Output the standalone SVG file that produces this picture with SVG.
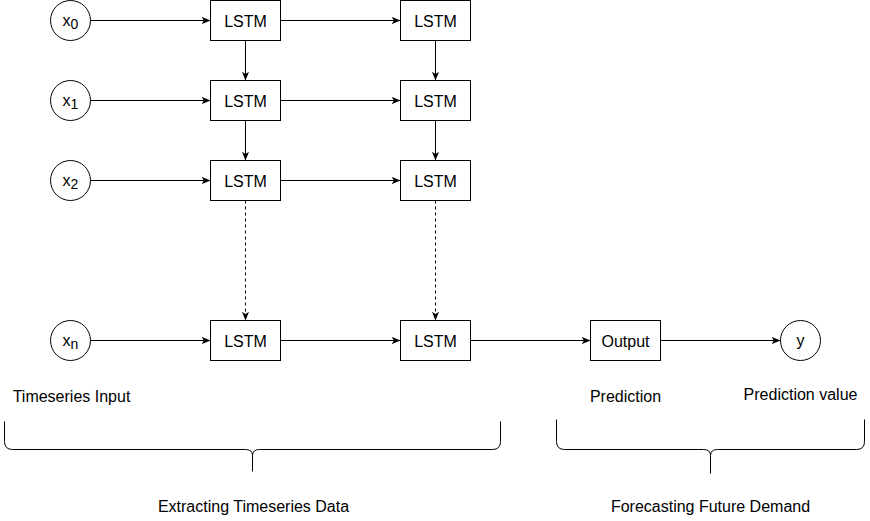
<svg xmlns="http://www.w3.org/2000/svg" width="870" height="521" viewBox="0 0 870 521">
<defs>
<style>
.box{fill:#fff;stroke:#000;stroke-width:1}
.lbl{font-family:"Liberation Sans",Arial,sans-serif;font-size:16px;fill:#000;text-anchor:middle}
.edge{fill:none;stroke:#000;stroke-width:1}
.dash{stroke-dasharray:3 3}
.brace{fill:none;stroke:#000;stroke-width:1}
</style>
<marker id="arr" viewBox="0 0 10 8" refX="10" refY="4" markerWidth="9" markerHeight="7" markerUnits="userSpaceOnUse" orient="auto">
<path d="M0,0 L10,4 L0,8 L2.5,4 z" fill="#000"/>
</marker>
</defs>
<rect width="870" height="521" fill="#fff"/>
<g transform="translate(0.5,0.5)">
<g id="connectors">
<path class="edge" d="M90,20 L210,20" marker-end="url(#arr)"/>
<path class="edge" d="M280,20 L400,20" marker-end="url(#arr)"/>
<path class="edge" d="M90,100 L210,100" marker-end="url(#arr)"/>
<path class="edge" d="M280,100 L400,100" marker-end="url(#arr)"/>
<path class="edge" d="M90,180 L210,180" marker-end="url(#arr)"/>
<path class="edge" d="M280,180 L400,180" marker-end="url(#arr)"/>
<path class="edge" d="M90,340 L210,340" marker-end="url(#arr)"/>
<path class="edge" d="M280,340 L400,340" marker-end="url(#arr)"/>
<path class="edge" d="M470,340 L590,340" marker-end="url(#arr)"/>
<path class="edge" d="M660,340 L780,340" marker-end="url(#arr)"/>
<path class="edge" d="M245,40 L245,80" marker-end="url(#arr)"/>
<path class="edge" d="M245,120 L245,160" marker-end="url(#arr)"/>
<path class="edge" d="M435,40 L435,80" marker-end="url(#arr)"/>
<path class="edge" d="M435,120 L435,160" marker-end="url(#arr)"/>
<path class="edge dash" d="M245,200 L245,320" marker-end="url(#arr)"/>
<path class="edge dash" d="M435,200 L435,320" marker-end="url(#arr)"/>
</g>
<g id="x0"><circle class="box" cx="70" cy="20" r="20"/><text class="lbl" x="70" y="25">x<tspan font-size="14" dy="3">0</tspan></text></g>
<g id="x1"><circle class="box" cx="70" cy="100" r="20"/><text class="lbl" x="70" y="105">x<tspan font-size="14" dy="3">1</tspan></text></g>
<g id="x2"><circle class="box" cx="70" cy="180" r="20"/><text class="lbl" x="70" y="185">x<tspan font-size="14" dy="3">2</tspan></text></g>
<g id="xn"><circle class="box" cx="70" cy="340" r="20"/><text class="lbl" x="70" y="345">x<tspan font-size="14" dy="3">n</tspan></text></g>
<g id="lstm00"><rect class="box" x="210" y="0" width="70" height="40"/><text class="lbl" x="245" y="26">LSTM</text></g>
<g id="lstm01"><rect class="box" x="400" y="0" width="70" height="40"/><text class="lbl" x="435" y="26">LSTM</text></g>
<g id="lstm10"><rect class="box" x="210" y="80" width="70" height="40"/><text class="lbl" x="245" y="106">LSTM</text></g>
<g id="lstm11"><rect class="box" x="400" y="80" width="70" height="40"/><text class="lbl" x="435" y="106">LSTM</text></g>
<g id="lstm20"><rect class="box" x="210" y="160" width="70" height="40"/><text class="lbl" x="245" y="186">LSTM</text></g>
<g id="lstm21"><rect class="box" x="400" y="160" width="70" height="40"/><text class="lbl" x="435" y="186">LSTM</text></g>
<g id="lstmn0"><rect class="box" x="210" y="320" width="70" height="40"/><text class="lbl" x="245" y="346">LSTM</text></g>
<g id="lstmn1"><rect class="box" x="400" y="320" width="70" height="40"/><text class="lbl" x="435" y="346">LSTM</text></g>
<g id="output"><rect class="box" x="590" y="320" width="70" height="40"/><text class="lbl" x="625" y="346">Output</text></g>
<g id="y"><circle class="box" cx="800" cy="340" r="20"/><text class="lbl" x="800" y="345">y</text></g>
<g id="label-input"><text class="lbl" x="71" y="401">Timeseries Input</text></g>
<g id="label-prediction"><text class="lbl" x="625" y="401">Prediction</text></g>
<g id="label-predvalue"><text class="lbl" x="800" y="399">Prediction value</text></g>
<g id="brace-left">
<path class="brace" d="M4,421 L4,441 Q4,449 12,449 L245,449 Q252,449 252,455 Q252,449 259,449 L492,449 Q500,449 500,441 L500,421 M252,455 L252,471"/>
<text class="lbl" x="253" y="511">Extracting Timeseries Data</text>
</g>
<g id="brace-right">
<path class="brace" d="M556,419 L556,441 Q556,449 564,449 L703,449 Q710,449 710,455 Q710,449 717,449 L856,449 Q864,449 864,441 L864,419 M710,455 L710,473"/>
<text class="lbl" x="710" y="511">Forecasting Future Demand</text>
</g>
</g>
</svg>
